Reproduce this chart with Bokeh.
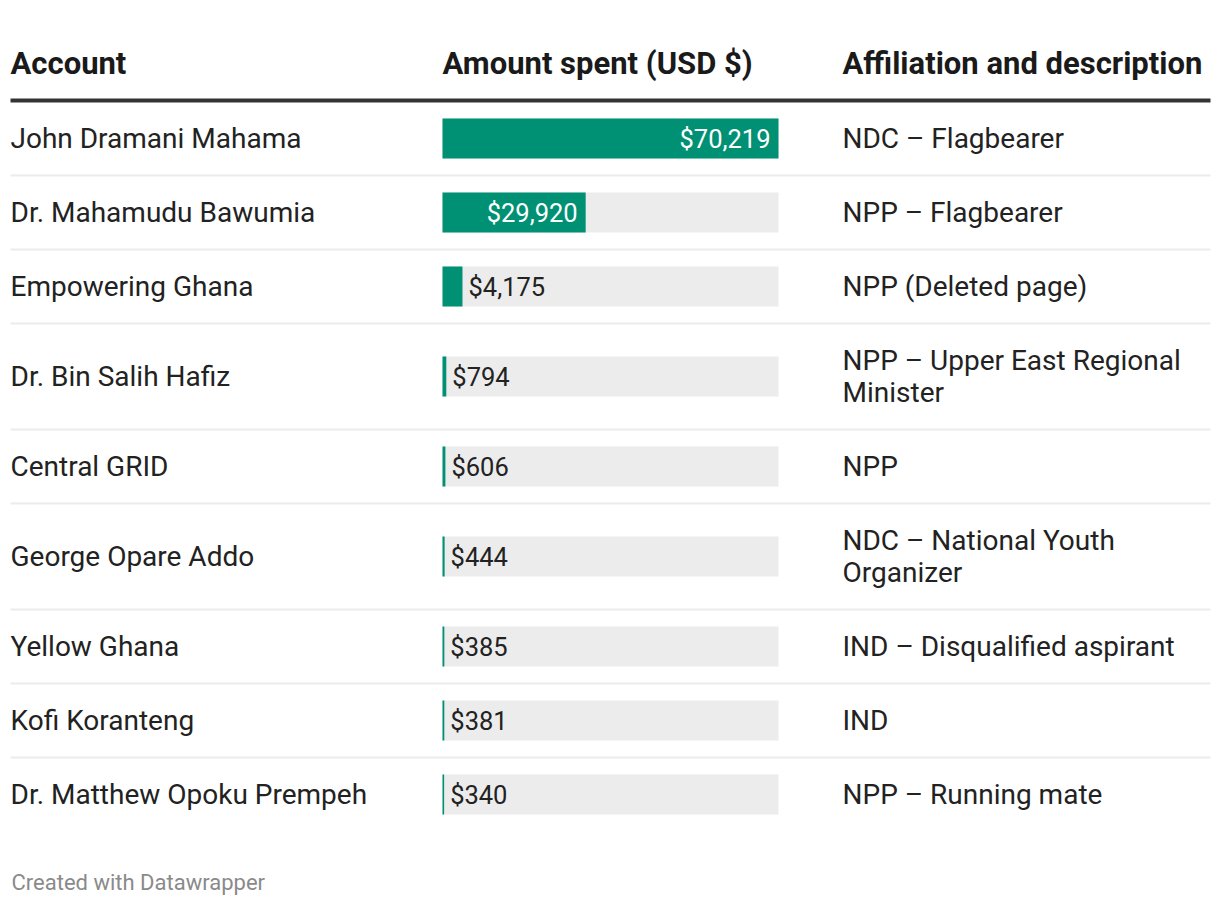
from bokeh.plotting import figure
from bokeh.models import Range1d, ColumnDataSource
from bokeh.core.properties import value
from bokeh.embed import file_html
from bokeh.resources import INLINE

# ---------------- data ----------------
accounts = [
    "John Dramani Mahama",
    "Dr. Mahamudu Bawumia",
    "Empowering Ghana",
    "Dr. Bin Salih Hafiz",
    "Central GRID",
    "George Opare Addo",
    "Yellow Ghana",
    "Kofi Koranteng",
    "Dr. Matthew Opoku Prempeh",
]
amounts = [70219, 29920, 4175, 794, 606, 444, 385, 381, 340]
descriptions = [
    "NDC – Flagbearer",
    "NPP – Flagbearer",
    "NPP (Deleted page)",
    "NPP – Upper East Regional\nMinister",
    "NPP",
    "NDC – National Youth\nOrganizer",
    "IND – Disqualified aspirant",
    "IND",
    "NPP – Running mate",
]
headers = ["Account", "Amount spent (USD $)", "Affiliation and description"]
footer = "Created with Datawrapper"

# ---------------- layout (page pixels) ----------------
W, H = 1216, 902
FONT = "Roboto"
TEXT = "#222222"
GREEN = "#009174"
TRACK = "#ececec"
COL_X = [10, 442, 842]
BAR_L, BAR_R = 442, 778
BAR_H = 40
ROW_TOP0 = 101
ROW_H1, ROW_H2 = 74, 106

p = figure(width=W, height=H, output_backend="svg", toolbar_location=None,
           x_range=Range1d(0, W), y_range=Range1d(H, 0),
           min_border=0, outline_line_color=None)
p.axis.visible = False
p.grid.visible = False
p.background_fill_color = "white"

vmax = max(amounts)
scale = vmax / (BAR_R - BAR_L)
p.extra_x_ranges = {"usd": Range1d(-BAR_L * scale, vmax + (W - BAR_R) * scale)}

# row geometry
tops, centers = [], []
t = ROW_TOP0
for d in descriptions:
    h = ROW_H2 if "\n" in d else ROW_H1
    tops.append(t)
    centers.append(t + h / 2)
    t += h

# header
p.text(x=COL_X, y=[63] * 3, text=headers, text_font=value(FONT),
       text_font_size="31px", text_font_style="bold", text_color="#1a1a1a",
       text_baseline="middle", text_align="left")
p.segment(x0=[10], x1=[1210], y0=[100], y1=[100], line_color="#333333", line_width=4)

# row separators
seps = tops[1:]
p.segment(x0=[10] * len(seps), x1=[1210] * len(seps), y0=seps, y1=seps,
          line_color="#ececec", line_width=2)

# text columns
p.text(x=[COL_X[0]] * len(accounts), y=centers, text=accounts, text_font=value(FONT),
       text_font_size="28px", text_color=TEXT, text_baseline="middle", text_align="left")
p.text(x=[COL_X[2]] * len(descriptions), y=centers, text=descriptions, text_font=value(FONT),
       text_font_size="28px", text_color=TEXT, text_baseline="middle", text_align="left",
       text_line_height=0.98)

# bars
p.hbar(y=centers, left=0, right=[vmax] * len(amounts), height=BAR_H,
       fill_color=TRACK, line_color=None, x_range_name="usd")
p.hbar(y=centers, left=0, right=amounts, height=BAR_H,
       fill_color=GREEN, line_color=None, x_range_name="usd")

labels = ["${:,}".format(a) for a in amounts]
inside = [(a / scale) > len(l) * 14 + 16 for a, l in zip(amounts, labels)]
src_in = ColumnDataSource(dict(x=[a for a, i in zip(amounts, inside) if i],
                               y=[c for c, i in zip(centers, inside) if i],
                               t=[l for l, i in zip(labels, inside) if i]))
src_out = ColumnDataSource(dict(x=[a for a, i in zip(amounts, inside) if not i],
                                y=[c for c, i in zip(centers, inside) if not i],
                                t=[l for l, i in zip(labels, inside) if not i]))
p.text(x="x", y="y", text="t", source=src_in, x_range_name="usd", x_offset=-8,
       text_font=value(FONT), text_font_size="25.5px", text_color="white",
       text_baseline="middle", text_align="right")
p.text(x="x", y="y", text="t", source=src_out, x_range_name="usd", x_offset=6,
       text_font=value(FONT), text_font_size="25.5px", text_color=TEXT,
       text_baseline="middle", text_align="left")

# footer
p.text(x=[11], y=[882], text=[footer], text_font=value(FONT), text_font_size="22px",
       text_color="#8a8a8a", text_baseline="middle", text_align="left")

open("out.html", "w").write(file_html(p, INLINE))
